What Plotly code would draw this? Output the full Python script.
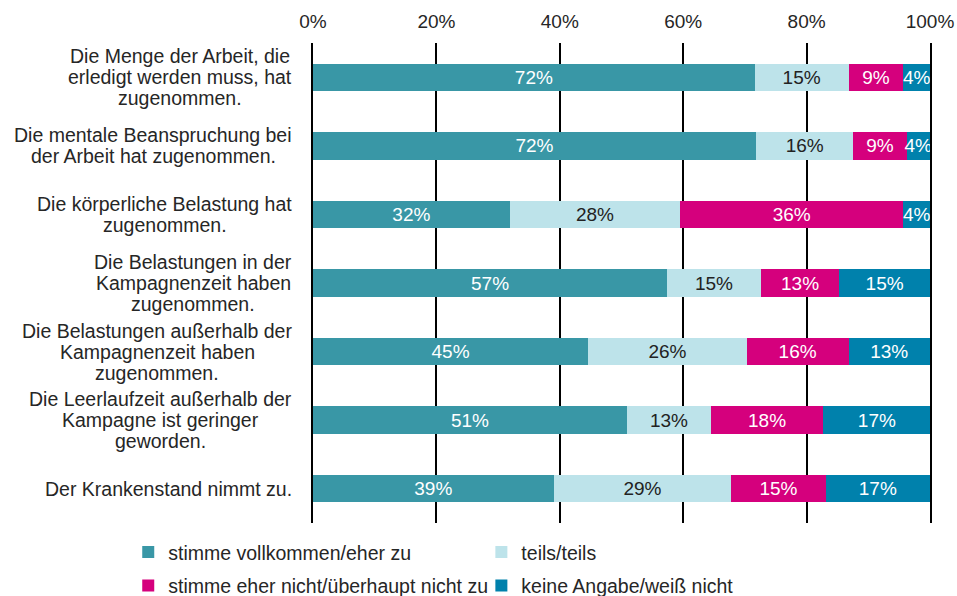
import plotly.graph_objects as go

categories = [
    "Die Menge der Arbeit, die<br>erledigt werden muss, hat<br>zugenommen.",
    "Die mentale Beanspruchung bei<br>der Arbeit hat zugenommen.",
    "Die körperliche Belastung hat<br>zugenommen.",
    "Die Belastungen in der<br>Kampagnenzeit haben<br>zugenommen.",
    "Die Belastungen außerhalb der<br>Kampagnenzeit haben<br>zugenommen.",
    "Die Leerlaufzeit außerhalb der<br>Kampagne ist geringer<br>geworden.",
    "Der Krankenstand nimmt zu.",
]

series_names = [
    "stimme vollkommen/eher zu",
    "teils/teils",
    "stimme eher nicht/überhaupt nicht zu",
    "keine Angabe/weiß nicht",
]

agree = [71.6, 71.8, 31.9, 57.4, 44.6, 50.9, 39.0]
partly = [15.2, 15.8, 27.6, 15.2, 25.7, 13.6, 28.8]
disagree = [8.9, 8.6, 36.2, 12.7, 16.5, 18.2, 15.3]
unknown = [4.3, 3.8, 4.3, 14.7, 13.2, 17.4, 16.9]

agree_labels = ["72%", "72%", "32%", "57%", "45%", "51%", "39%"]
partly_labels = ["15%", "16%", "28%", "15%", "26%", "13%", "29%"]
disagree_labels = ["9%", "9%", "36%", "13%", "16%", "18%", "15%"]
unknown_labels = ["4%", "4%", "4%", "15%", "13%", "17%", "17%"]

x_ticks = [0, 20, 40, 60, 80, 100]
x_tick_labels = ["0%", "20%", "40%", "60%", "80%", "100%"]

colors = ["#3997A6", "#BDE3EA", "#D5007D", "#0081AC"]
text_colors = ["white", "#222222", "white", "white"]

FONT = "Liberation Sans, Arial, sans-serif"
FS = 19
FS_LABEL = 19.5
LINE_H = 21
LABEL_GAP = 21

# Arial / Liberation Sans advance widths (per 1000 em) for label width estimation
CHAR_W = {
    ' ': 278, ',': 278, '.': 278, '/': 278,
    'a': 556, 'b': 556, 'c': 500, 'd': 556, 'e': 556, 'f': 278, 'g': 556,
    'h': 556, 'i': 222, 'j': 222, 'k': 500, 'l': 222, 'm': 833, 'n': 556,
    'o': 556, 'p': 556, 'q': 556, 'r': 333, 's': 500, 't': 278, 'u': 556,
    'v': 500, 'w': 722, 'x': 500, 'y': 500, 'z': 500,
    'ä': 556, 'ö': 556, 'ü': 556, 'ß': 611,
    'A': 667, 'B': 667, 'C': 722, 'D': 722, 'E': 667, 'F': 611, 'G': 778,
    'H': 722, 'I': 278, 'J': 500, 'K': 667, 'L': 556, 'M': 833, 'N': 722,
    'O': 778, 'P': 667, 'R': 722, 'S': 667, 'T': 611, 'U': 722, 'V': 667,
    'W': 944,
}


def text_width(s, size):
    return sum(CHAR_W.get(c, 556) for c in s) * size / 1000.0


series = [agree, partly, disagree, unknown]
labels = [agree_labels, partly_labels, disagree_labels, unknown_labels]
ypos = list(range(len(categories)))
legend_ids = ["legend", "legend2", "legend3", "legend4"]
# legend item placement (container fractions): two columns, two rows
legend_x = [0.134, 0.503, 0.134, 0.503]
legend_y = [0.106, 0.106, 0.050, 0.050]

fig = go.Figure()
for name, vals, labs, col, tcol, lg in zip(series_names, series, labels, colors, text_colors, legend_ids):
    fig.add_trace(go.Bar(
        y=ypos, x=vals, orientation="h", name=name,
        marker=dict(color=col, line=dict(width=0)),
        text=labs, textposition="inside", insidetextanchor="middle",
        textangle=0, constraintext="none",
        textfont=dict(color=tcol, size=FS, family=FONT),
        hoverinfo="skip", legend=lg,
    ))

for i, cat in enumerate(categories):
    lines = cat.split("<br>")
    n = len(lines)
    block_w = max(text_width(l, FS_LABEL) for l in lines)
    for k, line in enumerate(lines):
        fig.add_annotation(
            x=0, xref="paper", y=i, yref="y", text=line,
            xanchor="center", yanchor="middle", align="center",
            xshift=-LABEL_GAP - block_w / 2,
            yshift=-(k - (n - 1) / 2) * LINE_H,
            showarrow=False,
            font=dict(size=FS_LABEL, family=FONT, color="#262626"),
        )

legend_common = dict(
    orientation="h", xanchor="left", yanchor="top",
    xref="container", yref="container",
    font=dict(size=FS_LABEL, family=FONT, color="#262626"),
    traceorder="normal", itemclick=False, itemdoubleclick=False,
    bgcolor="rgba(0,0,0,0)",
)
legends = {
    lg: dict(x=lx, y=ly, **legend_common)
    for lg, lx, ly in zip(legend_ids, legend_x, legend_y)
}

fig.update_layout(
    barmode="stack",
    bargap=0.6,
    width=957, height=596,
    margin=dict(l=313, r=27, t=43, b=73, autoexpand=False),
    paper_bgcolor="white", plot_bgcolor="white",
    font=dict(family=FONT, size=FS, color="#262626"),
    uniformtext=dict(minsize=FS, mode="show"),
    showlegend=True,
    xaxis=dict(
        range=[0, 100], side="top", tickvals=x_ticks, ticktext=x_tick_labels,
        showgrid=True, gridcolor="black", gridwidth=2,
        zeroline=False, showline=False, ticks="", ticklabelstandoff=10,
        tickfont=dict(size=FS, family=FONT, color="#262626"),
    ),
    yaxis=dict(
        range=[6.5, -0.5], showticklabels=False, showgrid=False,
        zeroline=False, showline=True, mirror=True, linecolor="black",
        linewidth=2, layer="below traces", ticks="",
    ),
    **legends,
)

fig.write_html(
    "out.html",
    config={"displayModeBar": False},
    post_script="document.body.style.margin='0';document.body.style.overflow='hidden';",
)
